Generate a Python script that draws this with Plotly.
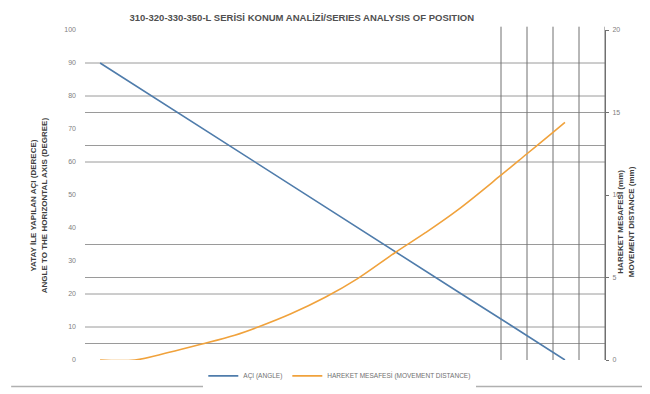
import plotly.graph_objects as go

# açı serisi (sol eksen, derece)
angle_x = [2.9, 12.8, 22.8, 32.7, 42.6, 52.6, 62.5, 72.4, 82.4, 92.3]
angle_y = [90, 80, 70, 60, 50, 40, 30, 20, 10, 0]

# mesafe serisi (sağ eksen, mm)
dist_x = [2.9, 9.6, 16.0, 22.3, 28.8, 33.3, 39.6, 46.2, 52.5, 59.6,
          65.4, 71.7, 80.0, 85.0, 90.0, 92.3]
dist_y = [0, 0, 0.45, 0.95, 1.5, 2.0, 2.8, 3.8, 4.95, 6.5,
          7.7, 9.1, 11.2, 12.5, 13.8, 14.4]

# referans çizgileri
h_lines = [90, 80, 75, 65, 60, 35, 25, 20, 10, 5]
v_lines = [80, 85, 90, 95, 100]

left_ticks = list(range(0, 101, 10))
right_ticks = [0, 5, 10, 15, 20]

TITLE = "310-320-330-350-L SERİSİ KONUM ANALİZİ/SERIES ANALYSIS OF POSITION"
Y1_TITLE = "YATAY İLE YAPILAN AÇI (DERECE)<br>ANGLE TO THE HORIZONTAL AXIS (DEGREE)"
Y2_TITLE = "HAREKET MESAFESİ (mm)<br>MOVEMENT DISTANCE (mm)"
NAMES = ["AÇI (ANGLE)", "HAREKET MESAFESİ (MOVEMENT DISTANCE)"]

BLUE = "#4f7cab"
ORANGE = "#f0a23c"
GRID = "#9a9a9a"
FONT = "Liberation Sans Narrow, Liberation Sans, Arial"

fig = go.Figure()
fig.add_trace(go.Scatter(
    x=angle_x, y=angle_y, mode="lines", name=NAMES[0],
    line=dict(color=BLUE, width=1.6),
))
fig.add_trace(go.Scatter(
    x=dist_x, y=dist_y, mode="lines", name=NAMES[1], yaxis="y2",
    line=dict(color=ORANGE, width=1.6, shape="spline"),
))

for v in h_lines:
    fig.add_shape(type="line", xref="paper", x0=0, x1=1, yref="y", y0=v, y1=v,
                  line=dict(color=GRID, width=1), layer="below")
for v in v_lines:
    fig.add_shape(type="line", xref="x", x0=v, x1=v, yref="paper", y0=0, y1=1.01,
                  line=dict(color="#707070", width=1), layer="below")
# alt çerçeve çizgisi
fig.add_shape(type="line", xref="paper", x0=-0.142, x1=1.094, yref="paper",
              y0=-0.08, y1=-0.08, line=dict(color="#b0b0b0", width=1.5))

fig.add_annotation(text="<b>" + Y1_TITLE + "</b>", xref="paper", yref="paper",
                   x=-0.11, y=0.47, textangle=-90, showarrow=False,
                   font=dict(size=8, color="#404040", family=FONT))
fig.add_annotation(text="<b>" + Y2_TITLE + "</b>", xref="paper", yref="paper",
                   x=1.062, y=0.42, textangle=-90, showarrow=False,
                   font=dict(size=8, color="#404040", family=FONT))

fig.update_layout(
    width=650, height=394,
    margin=dict(l=77, r=53, t=22, b=38),
    paper_bgcolor="white", plot_bgcolor="white",
    font=dict(family=FONT, size=7, color="#808080"),
    title=dict(text="<b>" + TITLE + "</b>", x=0.452, xref="container", xanchor="center",
               y=0.975, yref="container", yanchor="middle",
               font=dict(size=9.5, color="#505050", family=FONT)),
    xaxis=dict(range=[0, 100], showgrid=False, showticklabels=False, zeroline=False,
               showline=False, fixedrange=True),
    yaxis=dict(range=[0, 100], tickvals=left_ticks, showgrid=False, zeroline=False,
               showline=False, ticks="", ticklabelstandoff=8),
    yaxis2=dict(range=[0, 20], tickvals=right_ticks, overlaying="y", side="right",
                showgrid=False, zeroline=False, showline=True, linecolor="#707070",
                ticks="outside", ticklen=3, tickcolor="#707070", ticklabelstandoff=2),
    legend=dict(orientation="h", x=0.49, xanchor="center", y=-0.048, yanchor="middle",
                font=dict(size=6.5, color="#707070"), itemwidth=30),
    showlegend=True,
)

fig.write_html("out.html")
